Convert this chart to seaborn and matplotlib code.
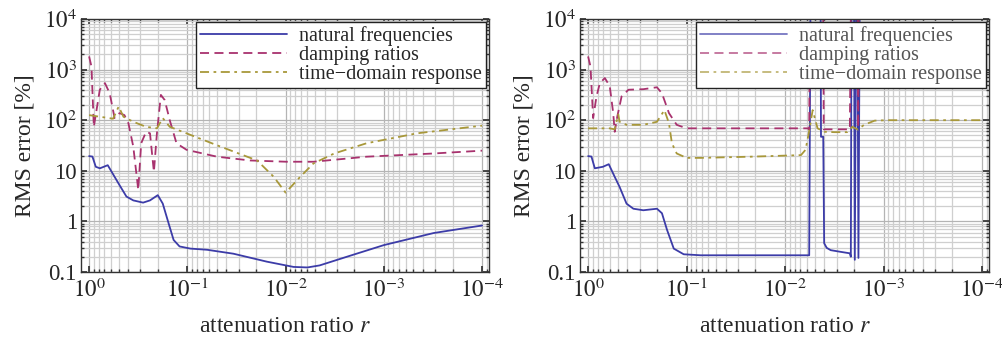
import numpy as np
import pandas as pd
import seaborn as sns
import matplotlib
matplotlib.use("Agg")
import matplotlib.pyplot as plt
from matplotlib.ticker import FixedLocator, FixedFormatter, LogLocator, NullFormatter

# DATOS PANEL IZQUIERDO
r_nat_a = [1.0, 0.925, 0.855, 0.776, 0.646, 0.55, 0.49, 0.417, 0.355, 0.282, 0.24, 0.2, 0.178,
           0.155, 0.138, 0.12, 0.093, 0.063, 0.034, 0.0155, 0.0083, 0.006, 0.0045, 0.0022,
           0.001, 0.00031, 0.0001]
e_nat_a = [19.5, 19.1, 12.0, 11.2, 12.9, 7.6, 5.2, 3.1, 2.6, 2.35, 2.6, 3.3, 2.25,
           0.91, 0.43, 0.32, 0.29, 0.275, 0.23, 0.16, 0.126, 0.123, 0.135, 0.21,
           0.34, 0.59, 0.83]

r_damp_a = [1.0, 0.946, 0.895, 0.84, 0.778, 0.69, 0.617, 0.55, 0.49, 0.437, 0.398, 0.355, 0.316,
            0.295, 0.263, 0.24, 0.219, 0.204, 0.186, 0.17, 0.151, 0.129, 0.102, 0.05, 0.023,
            0.0098, 0.0052, 0.0015, 0.00031, 0.0001]
e_damp_a = [1820, 1150, 74, 158, 400, 540, 340, 110, 138, 126, 87, 30, 4.2,
            35, 59, 55, 9.5, 55, 316, 250, 100, 35, 26, 19, 16,
            15.1, 15.1, 19, 22, 25]

r_time_a = [1.0, 0.776, 0.57, 0.5, 0.447, 0.355, 0.263, 0.204, 0.178, 0.151, 0.102, 0.05, 0.0195,
            0.0132, 0.01, 0.0071, 0.0052, 0.0032, 0.0015, 0.00046, 0.0001]
e_time_a = [126, 117, 107, 186, 117, 93, 74, 69, 110, 74, 55, 32, 16,
            7.6, 3.7, 7.6, 14, 22, 35, 55, 78]

# DATOS PANEL DERECHO (1e5 = fuera de escala)
r_nat_b = [1.0, 0.925, 0.855, 0.708, 0.617, 0.537, 0.479, 0.407, 0.347, 0.275, 0.2, 0.178, 0.158,
           0.135, 0.107, 0.072, 0.00569, 0.0055, 0.00437, 0.00432, 0.0041, 0.00401, 0.00378,
           0.00344, 0.00272, 0.0022, 0.00215, 0.00211, 0.002, 0.00196, 0.00189, 0.00185,
           0.0018, 0.00174, 0.0001]
e_nat_b = [19.5, 19.1, 11.2, 12.0, 13.5, 7.6, 4.8, 2.24, 1.78, 1.66, 1.78, 1.45, 0.68,
           0.29, 0.224, 0.214, 0.214, 1e5, 1e5, 47, 47, 0.37, 0.30,
           0.27, 0.25, 0.234, 0.2, 1e5, 1e5, 0.174, 1e5, 1e5,
           0.19, 1e5, 1e5]

r_damp_b = [1.0, 0.946, 0.889, 0.822, 0.76, 0.676, 0.603, 0.556, 0.537, 0.506, 0.457, 0.389, 0.275,
            0.2, 0.178, 0.151, 0.126, 0.1, 0.0059, 0.00569, 0.00556, 0.00412, 0.00405, 0.0022,
            0.00213, 0.00184, 0.00181, 0.00178, 0.0001]
e_damp_b = [1820, 1150, 110, 295, 540, 680, 470, 138, 59, 117, 295, 400, 410,
            447, 340, 138, 81, 69, 69, 66, 1e5, 1e5, 66, 66,
            1e5, 1e5, 72, 1e5, 1e5]

r_time_b = [1.0, 0.603, 0.537, 0.494, 0.479, 0.407, 0.275, 0.2, 0.168, 0.151, 0.141, 0.126, 0.1,
            0.072, 0.0224, 0.0069, 0.0062, 0.00575, 0.00525, 0.00468, 0.00398, 0.00316, 0.00234,
            0.00207, 0.00182, 0.00158, 0.00123, 0.00091, 0.0001]
e_time_b = [69, 69, 66, 130, 93, 81, 81, 93, 158, 87, 35, 22, 18,
            18, 19, 20.4, 26, 55, 158, 69, 59, 58, 58,
            74, 65, 81, 98, 100, 100]

etiquetas = ['natural frequencies', 'damping ratios', 'time\u2212domain response']
colores = ['#3c3ca8', '#a8326e', '#a8983a']
estilos = ['-', (0, (5, 3)), (0, (5, 2.5, 1.5, 2.5))]

y_ticks = [0.1, 1, 10, 100, 1000, 10000]
y_labels = ['0.1', '1', '10', '$10^2$', '$10^3$', '$10^4$']
x_ticks = [1, 0.1, 0.01, 0.001, 0.0001]
x_labels = ['$10^{0}$', '$10^{-1}$', '$10^{-2}$', '$10^{-3}$', '$10^{-4}$']

sns.set_theme(style='ticks')
plt.rcParams['font.family'] = ['Liberation Serif', 'DejaVu Serif']
plt.rcParams['mathtext.fontset'] = 'stix'


def dibujar_panel(ax, series, claro=False):
    for (r, e), lab, col, ls in zip(series, etiquetas, colores, estilos):
        df = pd.DataFrame({'r': r, 'e': e})
        sns.lineplot(data=df, x='r', y='e', ax=ax, color=col, linestyle=ls, lw=1.3,
                     sort=False, estimator=None, label=lab)
    ax.set_xscale('log')
    ax.set_yscale('log')
    ax.set_xlim(10 ** 0.082, 10 ** -4.07)
    ax.set_ylim(0.1, 10000)
    ax.xaxis.set_major_locator(FixedLocator(x_ticks))
    ax.xaxis.set_major_formatter(FixedFormatter(x_labels))
    ax.yaxis.set_major_locator(FixedLocator(y_ticks))
    ax.yaxis.set_major_formatter(FixedFormatter(y_labels))
    for eje in (ax.xaxis, ax.yaxis):
        eje.set_minor_locator(LogLocator(base=10, subs=np.arange(2, 10), numticks=20))
        eje.set_minor_formatter(NullFormatter())
    ax.grid(True, which='major', color='#b4b4b4', lw=0.9)
    ax.grid(True, which='minor', color='#cfcfcf', lw=0.9)
    ax.set_axisbelow(True)
    ax.tick_params(which='both', direction='in', top=True, right=True, labelsize=16.5,
                   color='#333333', pad=3)
    ax.tick_params(axis='x', which='major', pad=5)
    ax.tick_params(which='major', length=4)
    ax.tick_params(which='minor', length=2)
    for s in ax.spines.values():
        s.set_color('#333333')
        s.set_linewidth(1.0)
    ax.set_xlabel('attenuation ratio $r$', fontsize=17, labelpad=10)
    ax.set_ylabel('RMS error [%]', fontsize=17, labelpad=6)
    leg = ax.legend(loc='upper right', fontsize=14.5, handlelength=4.3, frameon=True,
                    fancybox=False, edgecolor='#222222', framealpha=1, borderaxespad=0.15,
                    labelspacing=0.0, borderpad=0.2, handletextpad=0.6)
    leg.get_frame().set_linewidth(1.0)
    if claro:
        for t in leg.get_texts():
            t.set_color('#555555')
        for h in leg.get_lines():
            h.set_alpha(0.7)


fig = plt.figure(figsize=(10.03, 3.44), dpi=100)
ax1 = fig.add_axes([0.0808, 0.2093, 0.4067, 0.7355])
ax2 = fig.add_axes([0.5783, 0.2093, 0.4077, 0.7355])

dibujar_panel(ax1, [(r_nat_a, e_nat_a), (r_damp_a, e_damp_a), (r_time_a, e_time_a)])
dibujar_panel(ax2, [(r_nat_b, e_nat_b), (r_damp_b, e_damp_b), (r_time_b, e_time_b)], claro=True)

fig.savefig('out.png', dpi=100)
